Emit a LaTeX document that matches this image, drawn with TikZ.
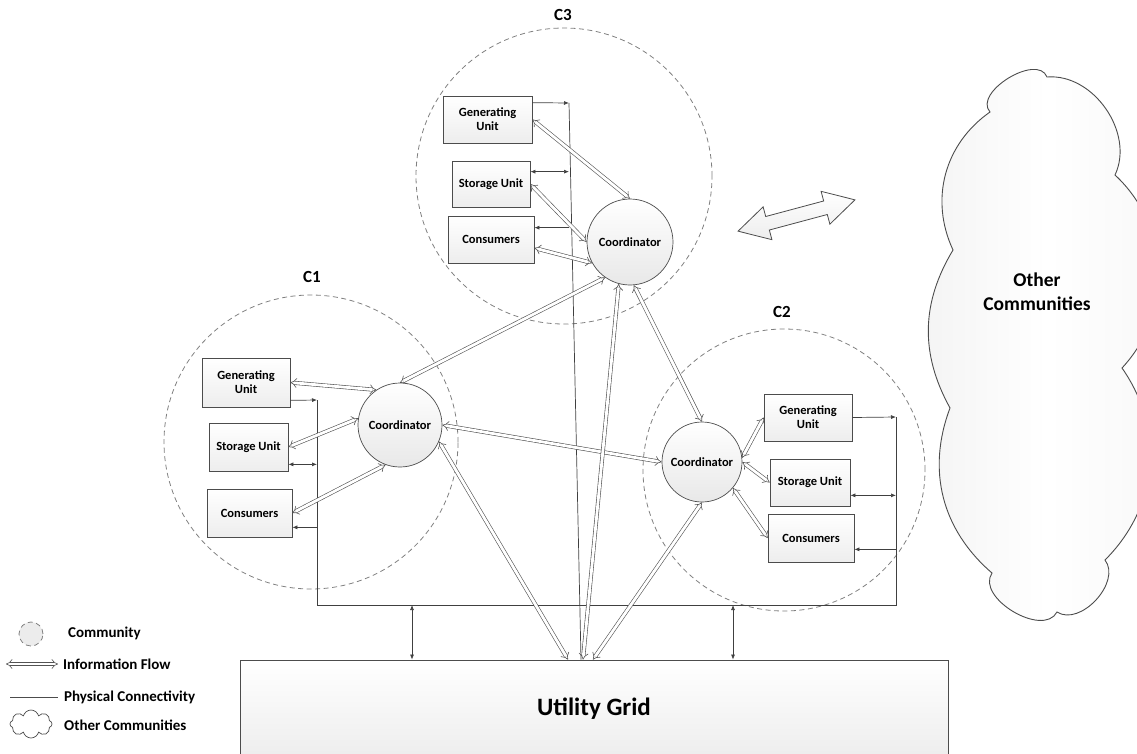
\documentclass[tikz,border=0pt]{standalone}
\usepackage{fontspec}
\setmainfont{Carlito}
\usetikzlibrary{arrows.meta,shapes.symbols,calc}
\tikzset{
 box/.style={draw=gray!60!black, line width=0.7pt, top color=white, bottom color=gray!14, inner sep=0pt, align=center, font=\fontsize{12.5}{14}\selectfont\bfseries},
 coord/.style={circle, draw=gray!60!black, line width=0.7pt, top color=white, bottom color=gray!18, inner sep=0pt, font=\fontsize{12.5}{14}\selectfont\bfseries},
 community/.style={circle, draw=gray, dash pattern=on 5pt off 3.5pt, line width=0.8pt, inner sep=0pt},
 clabel/.style={font=\fontsize{17}{20}\selectfont\bfseries},
 info/.style={draw=gray!65!black, line width=0.6pt, double=white, double distance=2.8pt, {Implies[scale=1.3]}-{Implies[scale=1.3]}},
 phys/.style={draw=black!75, line width=0.7pt},
 ptip/.style={-{Latex[length=5pt,width=4pt]}},
 ptips/.style={{Latex[length=5pt,width=4pt]}-{Latex[length=5pt,width=4pt]}},
 legend/.style={anchor=west, font=\fontsize{15}{18}\selectfont\bfseries, inner sep=0pt},
}
\begin{document}
\begin{tikzpicture}[x=1pt,y=1pt]
\clip (0,0) rectangle (1137,-753);
\useasboundingbox (0,0) rectangle (1137,-753);

% communities
\node[community, minimum size=296pt] (C3) at (564,-176) {};
\node[community, minimum size=294pt] (C1) at (311,-442) {};
\node[community, minimum size=282pt] (C2) at (784,-470) {};
\node[clabel] (L3) at (563,-15) {C3};
\node[clabel] (L1) at (312,-277) {C1};
\node[clabel] (L2) at (782,-312) {C2};

% utility grid
\node[draw=gray!60!black, line width=0.8pt, top color=white, bottom color=gray!14, minimum width=708pt, minimum height=98pt, inner sep=0pt, font=\fontsize{25}{30}\selectfont\bfseries] (grid) at (594,-709) {Utility Grid};

% other communities cloud
\draw[draw=gray!60!black, line width=0.9pt, left color=gray!9, right color=gray!6, middle color=white]
 (990,-112) to[bend left=100] (1047,-77) to[bend left=60] (1115,-175) to[bend left=45] (1122,-368)
 to[bend left=40] (1105,-560) to[bend left=80] (1057,-612) to[bend left=93] (992,-573)
 to[bend left=35] (950,-408) to[bend left=30] (953,-250) to[bend left=40] (990,-112) -- cycle;
\node[font=\fontsize{19.5}{24}\selectfont\bfseries, align=center] (oc) at (1037,-292) {Other\\Communities};

% block double arrow
\begin{scope}[shift={(796.5,-215.5)}, rotate=15]
\draw[draw=gray!60!black, line width=0.8pt, top color=white, bottom color=gray!14]
 (-60.5,0) -- (-30,17) -- (-30,7) -- (30,7) -- (30,17) -- (60.5,0) -- (30,-17) -- (30,-7) -- (-30,-7) -- (-30,-17) -- cycle;
\end{scope}

% C3 nodes
\node[box, minimum width=89pt, minimum height=47pt] (g3) at (487.5,-119.5) {Generating\\Unit};
\node[box, minimum width=78pt, minimum height=46pt] (s3) at (491,-184) {Storage Unit};
\node[box, minimum width=86pt, minimum height=47pt] (c3) at (491,-239.5) {Consumers};
\node[coord, minimum size=86pt] (k3) at (630,-242) {Coordinator};

% C1 nodes
\node[box, minimum width=88pt, minimum height=49pt] (g1) at (246,-382.5) {Generating\\Unit};
\node[box, minimum width=79pt, minimum height=48pt] (s1) at (248.5,-447) {Storage Unit};
\node[box, minimum width=85pt, minimum height=48pt] (c1) at (249.5,-513) {Consumers};
\node[coord, minimum size=84pt] (k1) at (400,-425) {Coordinator};

% C2 nodes
\node[box, minimum width=88pt, minimum height=47pt] (g2) at (808,-417.5) {Generating\\Unit};
\node[box, minimum width=80pt, minimum height=47pt] (s2) at (810,-482.5) {Storage Unit};
\node[box, minimum width=86pt, minimum height=48pt] (c2) at (811,-538) {Consumers};
\node[coord, minimum size=80pt] (k2) at (702,-462) {Coordinator};

% physical connectivity
\coordinate (b3t) at (569,-103);
\coordinate (b3b) at ([xshift=-13pt]grid.north);
\coordinate (b1t) at (317,-400);
\coordinate (b1b) at (317,-605);
\coordinate (b2b) at (896,-605);
\coordinate (b2t) at (896,-417);

\draw[phys] (b3t) -- (b3b);
\draw[phys, ptip] ([yshift=-7pt]g3.north east) -- (b3t);
\coordinate (s3p) at ([yshift=-11pt]s3.north east);
\draw[phys, ptips] (s3p) -- (b3t |- s3p);
\coordinate (c3p) at ([yshift=-12pt]c3.north east);
\draw[phys, ptip] (b3t |- c3p) -- (c3p);

\draw[phys] (b1t) -- (b1b) -- (b2b) -- (b2t);
\draw[phys, ptip] ([yshift=7pt]g1.south east) -- (b1t);
\coordinate (s1p) at ([yshift=7pt]s1.south east);
\draw[phys, ptips] (s1p) -- (b1t |- s1p);
\coordinate (c1p) at ([yshift=10pt]c1.south east);
\draw[phys, ptip] (b1t |- c1p) -- (c1p);

\draw[phys, ptip] (g2.east) -- (b2t);
\coordinate (s2p) at ([yshift=11pt]s2.south east);
\draw[phys, ptips] (s2p) -- (b2t |- s2p);
\coordinate (c2p) at ([yshift=13pt]c2.south east);
\draw[phys, ptip] (b2t |- c2p) -- (c2p);

\coordinate (v1) at (412,-605);
\coordinate (v2) at (733,-605);
\draw[phys, ptips] (v1) -- (v1 |- grid.north);
\draw[phys, ptips] (v2) -- (v2 |- grid.north);

% information flow
\draw[info] (g3.east) -- (k3.north);
\draw[info] (s3.east) -- (k3.west);
\draw[info] ([yshift=-8.5pt]c3.east) -- (k3.209);

\draw[info] (g1.east) -- (k1.124);
\draw[info] (s1.east) -- (k1.171);
\draw[info] (c1.east) -- (k1.250);

\draw[info] (k2.6) -- (g2.west);
\draw[info] (k2.east) -- (s2.west);
\draw[info] (k2.-40) -- (c2.west);

\draw[info] (k1.north) -- (k3.235);
\draw[info] (k1.east) -- (k2.west);
\draw[info] (k2.north) -- (k3.275);

\coordinate (gA) at ([xshift=-26pt]grid.north);
\coordinate (gB) at ([xshift=-11pt]grid.north);
\coordinate (gC) at ([xshift=-1pt]grid.north);
\draw[info] (k1.-23) -- (gA);
\draw[info] (k3.255) -- (gB);
\draw[info] (k2.south) -- (gC);

% legend
\node[community, fill=gray!15, minimum size=24pt] (lg1) at (31,-634) {};
\node[legend] (lt1) at (68,-633) {Community};
\coordinate (la) at (6,-664);
\coordinate (lb) at (58,-664);
\draw[info] (la) -- (lb);
\node[legend] (lt2) at (63,-664) {Information Flow};
\coordinate (lc) at (10,-697);
\coordinate (ld) at (58,-697);
\draw[draw=gray!60!black, line width=0.8pt] (lc) -- (ld);
\node[legend] (lt3) at (64,-697) {Physical Connectivity};
\node[cloud, cloud puffs=8, cloud ignores aspect, draw=gray!60!black, line width=0.7pt, fill=white, minimum width=42pt, minimum height=28pt, inner sep=0pt] (lg4) at (31,-724) {};
\node[legend] (lt4) at (64,-725) {Other Communities};
\end{tikzpicture}
\end{document}
